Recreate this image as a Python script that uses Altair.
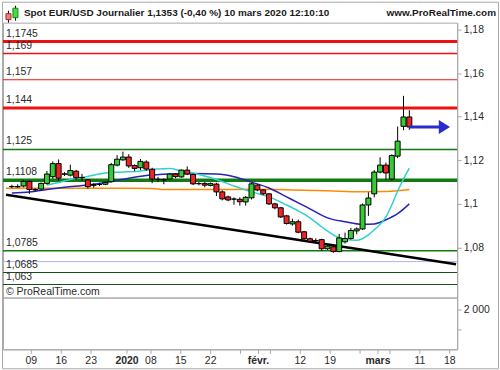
import altair as alt
import pandas as pd

# ---------------- data ----------------
candle_dates = [
    "2019-12-03", "2019-12-04", "2019-12-05", "2019-12-06", "2019-12-09", "2019-12-10",
    "2019-12-11", "2019-12-12", "2019-12-13", "2019-12-16", "2019-12-17", "2019-12-18",
    "2019-12-19", "2019-12-20", "2019-12-23", "2019-12-24", "2019-12-26", "2019-12-27",
    "2019-12-30", "2019-12-31", "2020-01-02", "2020-01-03", "2020-01-06", "2020-01-07",
    "2020-01-08", "2020-01-09", "2020-01-10", "2020-01-13", "2020-01-14", "2020-01-15",
    "2020-01-16", "2020-01-17", "2020-01-20", "2020-01-21", "2020-01-22", "2020-01-23",
    "2020-01-24", "2020-01-27", "2020-01-28", "2020-01-29", "2020-01-30", "2020-01-31",
    "2020-02-03", "2020-02-04", "2020-02-05", "2020-02-06", "2020-02-07", "2020-02-10",
    "2020-02-11", "2020-02-12", "2020-02-13", "2020-02-14", "2020-02-17", "2020-02-18",
    "2020-02-19", "2020-02-20", "2020-02-21", "2020-02-24", "2020-02-25", "2020-02-26",
    "2020-02-27", "2020-02-28", "2020-03-02", "2020-03-03", "2020-03-04", "2020-03-05",
    "2020-03-06", "2020-03-09", "2020-03-10",
]
opens = [
    1.1079, 1.1080, 1.1082, 1.1103, 1.1066, 1.1068, 1.1094, 1.1125, 1.1185, 1.1136, 1.1132, 1.1150,
    1.1120, 1.1110, 1.1085, 1.1089, 1.1090, 1.1102, 1.1178, 1.1202, 1.1215, 1.1176, 1.1166, 1.1192,
    1.1159, 1.1113, 1.1110, 1.1114, 1.1137, 1.1124, 1.1155, 1.1135, 1.1093, 1.1094, 1.1085, 1.1091,
    1.1055, 1.1032, 1.1022, 1.1021, 1.1009, 1.1028, 1.1086, 1.1064, 1.1046, 1.1000, 1.0982, 1.0945,
    1.0908, 1.0918, 1.0872, 1.0840, 1.0832, 1.0836, 1.0794, 1.0803, 1.0781, 1.0826, 1.0841, 1.0876,
    1.0885, 1.0995, 1.1046, 1.1146, 1.1178, 1.1114, 1.1219, 1.1356, 1.1399,
]
highs = [
    1.1088, 1.1090, 1.1110, 1.1108, 1.1072, 1.1098, 1.1151, 1.1195, 1.1204, 1.1146, 1.1180, 1.1156,
    1.1138, 1.1113, 1.1095, 1.1097, 1.1102, 1.1188, 1.1224, 1.1240, 1.1228, 1.1182, 1.1206, 1.1200,
    1.1166, 1.1124, 1.1118, 1.1140, 1.1141, 1.1158, 1.1172, 1.1140, 1.1100, 1.1100, 1.1098, 1.1097,
    1.1062, 1.1038, 1.1030, 1.1030, 1.1036, 1.1097, 1.1090, 1.1068, 1.1050, 1.1005, 1.0986, 1.0950,
    1.0932, 1.0928, 1.0876, 1.0845, 1.0842, 1.0840, 1.0812, 1.0808, 1.0862, 1.0868, 1.0890, 1.0892,
    1.1002, 1.1053, 1.1155, 1.1214, 1.1190, 1.1228, 1.1355, 1.1496, 1.1430,
]
lows = [
    1.1072, 1.1074, 1.1076, 1.1046, 1.1058, 1.1062, 1.1088, 1.1115, 1.1105, 1.1128, 1.1126, 1.1112,
    1.1105, 1.1070, 1.1074, 1.1082, 1.1086, 1.1098, 1.1172, 1.1198, 1.1165, 1.1150, 1.1155, 1.1152,
    1.1095, 1.1100, 1.1090, 1.1110, 1.1118, 1.1120, 1.1132, 1.1086, 1.1085, 1.1076, 1.1080, 1.1036,
    1.1016, 1.1012, 1.0996, 1.0992, 1.0992, 1.1020, 1.1058, 1.1040, 1.0995, 1.0975, 1.0935, 1.0905,
    1.0900, 1.0865, 1.0835, 1.0826, 1.0825, 1.0785, 1.0788, 1.0776, 1.0778, 1.0818, 1.0836, 1.0860,
    1.0880, 1.0945, 1.1030, 1.1140, 1.1110, 1.1108, 1.1210, 1.1338, 1.1340,
]
closes = [
    1.1080, 1.1078, 1.1103, 1.1066, 1.1064, 1.1094, 1.1137, 1.1185, 1.1118, 1.1138, 1.1153, 1.1120,
    1.1121, 1.1079, 1.1089, 1.1089, 1.1099, 1.1180, 1.1205, 1.1215, 1.1174, 1.1163, 1.1195, 1.1160,
    1.1114, 1.1112, 1.1111, 1.1137, 1.1125, 1.1155, 1.1137, 1.1092, 1.1093, 1.1086, 1.1093, 1.1055,
    1.1023, 1.1018, 1.1022, 1.1010, 1.1030, 1.1092, 1.1064, 1.1046, 1.1000, 1.0982, 1.0940, 1.0910,
    1.0918, 1.0870, 1.0840, 1.0828, 1.0831, 1.0794, 1.0806, 1.0781, 1.0844, 1.0841, 1.0878, 1.0885,
    1.0995, 1.1027, 1.1146, 1.1178, 1.1142, 1.1222, 1.1288, 1.1399, 1.1353,
]

# moving averages
ma10_dates = ["2019-12-11", "2019-12-13", "2019-12-17", "2019-12-20", "2019-12-26", "2019-12-31",
              "2020-01-06", "2020-01-09", "2020-01-13", "2020-01-15", "2020-01-20", "2020-01-23",
              "2020-01-28", "2020-01-31", "2020-02-05", "2020-02-10", "2020-02-12", "2020-02-14",
              "2020-02-18", "2020-02-20", "2020-02-24", "2020-02-26", "2020-02-28", "2020-03-02",
              "2020-03-04", "2020-03-05", "2020-03-06", "2020-03-09", "2020-03-10"]
ma10_vals = [1.1087, 1.1098, 1.1112, 1.1126, 1.1142, 1.1146, 1.1151, 1.1160, 1.1162, 1.1151,
             1.1135, 1.1112, 1.1082, 1.1055, 1.1032, 1.0995, 1.0968, 1.0936, 1.0895, 1.0858,
             1.0836, 1.0833, 1.0858, 1.0881, 1.0940, 1.0995, 1.1059, 1.1114, 1.1164]
ma20_dates = ["2019-12-03", "2019-12-06", "2019-12-11", "2019-12-16", "2019-12-20", "2019-12-27",
              "2020-01-02", "2020-01-07", "2020-01-13", "2020-01-17", "2020-01-23", "2020-01-28",
              "2020-01-31", "2020-02-05", "2020-02-10", "2020-02-12", "2020-02-14", "2020-02-19",
              "2020-02-24", "2020-02-27", "2020-03-02", "2020-03-04", "2020-03-06", "2020-03-10"]
ma20_vals = [1.1050, 1.1055, 1.1066, 1.1076, 1.1087, 1.1103, 1.1118, 1.1130, 1.1137, 1.1139,
             1.1137, 1.1125, 1.1100, 1.1073, 1.1032, 1.1005, 1.0977, 1.0936, 1.0918, 1.0906,
             1.0908, 1.0927, 1.0955, 1.1000]
ma200_dates = ["2019-12-02", "2019-12-23", "2020-01-08", "2020-01-10", "2020-01-22", "2020-01-31",
               "2020-02-11", "2020-02-19", "2020-02-27", "2020-03-04", "2020-03-06", "2020-03-10"]
ma200_vals = [1.1072, 1.1072, 1.1071, 1.1066, 1.1066, 1.1067, 1.1064, 1.1060, 1.1056, 1.1057,
              1.1060, 1.1066]

# support / resistance levels
level_values = [1.1745, 1.169, 1.157, 1.144, 1.125, 1.1108, 1.0785, 1.0735, 1.0685, 1.063]
level_labels = ["1,1745", "1,169", "1,157", "1,144", "1,125", "1,1108", "1,0785", "", "1,0685", "1,063"]
level_colors = ["#ee1111", "#ee1111", "#ee1111", "#ee1111", "#117a11", "#117a11", "#117a11",
                "#aab2f2", "#1d4d1d", "#1d4d1d"]
level_widths = [3, 1.5, 1.2, 3, 1.5, 3.5, 1.5, 1, 1.2, 1.2]

# trendline and arrow
trend_dates = ["2019-12-02", "2020-03-20"]
trend_vals = [1.1042, 1.0723]
arrow_dates = ["2020-03-10", "2020-03-18"]
last_close = 1.1353

# axes
tick_dates = ["2019-12-09", "2019-12-16", "2019-12-23", "2020-01-02", "2020-01-08", "2020-01-15",
              "2020-01-22", "2020-01-29", "2020-02-03", "2020-02-05", "2020-02-12", "2020-02-19",
              "2020-02-26", "2020-03-02", "2020-03-04", "2020-03-11", "2020-03-18"]
tick_texts = ["09", "16", "23", "2020", "08", "15", "22", "", "févr.", "", "12", "19", "", "mars",
              "", "11", "18"]
bold_texts = ["2020", "févr.", "mars"]
price_ticks = [1.08, 1.10, 1.12, 1.14, 1.16, 1.18]
vol_ticks = [1000, 2000]

title_text = "Spot EUR/USD Journalier 1,1353 (-0,40 %) 10 mars 2020 12:10:10"
site_text = "www.ProRealTime.com"
copy_text = "© ProRealTime.com"

# ---------------- trading-day calendar ----------------
holidays = ["2019-12-25", "2020-01-01"]
cal = [d.strftime("%Y-%m-%d") for d in pd.bdate_range("2019-12-02", "2020-03-20")
       if d.strftime("%Y-%m-%d") not in holidays]
origin = cal.index("2019-12-09")


def idx(d):
    return cal.index(d) - origin


candles = pd.DataFrame({
    "i": [idx(d) for d in candle_dates],
    "open": opens, "high": highs, "low": lows, "close": closes,
})
levels = pd.DataFrame({"v": level_values, "label": level_labels,
                       "c": level_colors, "w": level_widths})
ma10 = pd.DataFrame({"i": [idx(d) for d in ma10_dates], "v": ma10_vals})
ma20 = pd.DataFrame({"i": [idx(d) for d in ma20_dates], "v": ma20_vals})
ma200 = pd.DataFrame({"i": [idx(d) for d in ma200_dates], "v": ma200_vals})
trend = pd.DataFrame({"i": [idx(d) for d in trend_dates], "v": trend_vals})
arrow = pd.DataFrame({"i": [idx(arrow_dates[0])], "i2": [idx(arrow_dates[1])], "v": [last_close]})
arrow_head = pd.DataFrame({"i": [idx(arrow_dates[1])], "v": [last_close]})

tick_idx = [idx(d) for d in tick_dates]
bold_idx = [tick_idx[k] for k, t in enumerate(tick_texts) if t in bold_texts]

# ---------------- layout ----------------
W, H_MAIN, H_VOL = 456, 276, 52
FONT = "Liberation Sans"
GRAY = "#a8a8a8"
TXT = "#2a2a2a"

xscale = alt.Scale(domain=[-4.667, 71.333], nice=False, zero=False)
yscale = alt.Scale(domain=[1.0570, 1.1832], nice=False, zero=False)

yaxis = alt.Axis(orient="right", values=price_ticks, title=None, grid=False,
                 labelExpr="replace(format(datum.value, '.3~r'), '.', ',')",
                 tickSize=4, labelPadding=2, domainColor=GRAY, tickColor=GRAY,
                 labelColor=TXT, labelFontSize=10.5, labelFont=FONT)


def X(field="i"):
    return alt.X(f"{field}:Q", scale=xscale, axis=None)


def Y(field="v"):
    return alt.Y(f"{field}:Q", scale=yscale, axis=yaxis)


level_rules = alt.Chart(levels).mark_rule().encode(
    y=Y("v"), color=alt.Color("c:N", scale=None), strokeWidth=alt.StrokeWidth("w:Q", scale=None))
level_text = alt.Chart(levels).mark_text(align="left", baseline="alphabetic", dy=-5,
                                          fontSize=10.5, font=FONT, color=TXT).encode(
    x=alt.value(3), y=Y("v"), text="label:N")

line_200 = alt.Chart(ma200).mark_line(color="#ff8a00", strokeWidth=1.5, clip=True,
                                      interpolate="monotone").encode(x=X(), y=Y())
line_20 = alt.Chart(ma20).mark_line(color="#2424b8", strokeWidth=1.5,
                                    interpolate="monotone").encode(x=X(), y=Y())
line_10 = alt.Chart(ma10).mark_line(color="#2fd0d0", strokeWidth=1.5,
                                    interpolate="monotone").encode(x=X(), y=Y())
trend_line = alt.Chart(trend).mark_line(color="#000000", strokeWidth=2.5, clip=True).encode(
    x=X(), y=Y())

wicks = alt.Chart(candles).mark_rule(color="#000000", strokeWidth=1).encode(
    x=X(), y=Y("low"), y2="high:Q")
bodies = alt.Chart(candles).mark_bar(size=5, stroke="#000000", strokeWidth=1).encode(
    x=X(), y=Y("open"), y2="close:Q",
    fill=alt.condition("datum.close >= datum.open", alt.value("#36cc36"), alt.value("#f02424")))

arrow_rule = alt.Chart(arrow).mark_rule(color="#2a2ad0", strokeWidth=3).encode(
    x=X(), x2="i2:Q", y=Y())
arrow_tip = alt.Chart(arrow_head).mark_point(shape="M-0.8,-1L0.8,0L-0.8,1Z", size=196,
                                              filled=True, color="#2a2ad0", opacity=1).encode(
    x=X(), y=Y())

one = pd.DataFrame({"t": [title_text], "s": [site_text], "c": [copy_text]})
title_mark = alt.Chart(one).mark_text(align="left", baseline="middle", fontSize=10,
                                      fontWeight="bold", font=FONT, color="#1a1a1a").encode(
    x=alt.value(21), y=alt.value(-10), text="t:N")
site_mark = alt.Chart(one).mark_text(align="right", baseline="middle", fontSize=10,
                                     fontWeight="bold", font=FONT, color="#1a1a1a").encode(
    x=alt.value(495), y=alt.value(-10), text="s:N")
copy_mark = alt.Chart(one).mark_text(align="left", baseline="middle", fontSize=10.5,
                                     font=FONT, color=TXT).encode(
    x=alt.value(3), y=alt.value(270), text="c:N")

# small candle icon in the header + outer frame
icon_red_wick = alt.Chart(one).mark_rule(color="#000000").encode(
    x=alt.value(5.5), y=alt.value(-12), y2=alt.value(0))
icon_red = alt.Chart(one).mark_rect(fill="#f08080", stroke="#b02020", strokeWidth=1).encode(
    x=alt.value(3), x2=alt.value(8), y=alt.value(-9), y2=alt.value(-3))
icon_green_wick = alt.Chart(one).mark_rule(color="#000000").encode(
    x=alt.value(12.5), y=alt.value(-17), y2=alt.value(-2))
icon_green = alt.Chart(one).mark_rect(fill="#44dd44", stroke="#118811", strokeWidth=1).encode(
    x=alt.value(10), x2=alt.value(15), y=alt.value(-14.5), y2=alt.value(-5))
frame = alt.Chart(one).mark_rect(fillOpacity=0, stroke=GRAY, strokeWidth=1).encode(
    x=alt.value(-0.5), x2=alt.value(497.5), y=alt.value(-20.5), y2=alt.value(347.5))

top = alt.layer(
    frame, level_rules, line_200, line_20, line_10, trend_line, wicks, bodies,
    arrow_rule, arrow_tip, level_text, copy_mark, title_mark, site_mark,
    icon_red_wick, icon_red, icon_green_wick, icon_green,
).properties(width=W, height=H_MAIN)

xaxis = alt.Axis(values=tick_idx, title=None, grid=False,
                 labelExpr="[" + ",".join("'" + t + "'" for t in tick_texts) + "][indexof(["
                           + ",".join(str(v) for v in tick_idx) + "], datum.value)]",
                 labelFontWeight={"condition": {"test": "indexof([" + ",".join(str(v) for v in bold_idx)
                                                        + "], datum.value) >= 0", "value": "bold"},
                                  "value": "normal"},
                 tickSize=4, labelPadding=2, domainColor=GRAY, tickColor=GRAY,
                 labelColor=TXT, labelFontSize=10.5, labelFont=FONT,
                 labelOverlap=False, labelFlush=False)
vol_axis = alt.Axis(orient="right", values=vol_ticks, title=None, grid=False,
                    labelExpr="datum.value == 2000 ? '2 000' : ''",
                    tickSize=4, labelPadding=2, domainColor=GRAY, tickColor=GRAY,
                    labelColor=TXT, labelFontSize=10.5, labelFont=FONT)

vol_df = pd.DataFrame({"i": candles["i"], "volume": [0] * len(candles)})
bottom = alt.Chart(vol_df).mark_point(opacity=0).encode(
    x=alt.X("i:Q", scale=xscale, axis=xaxis),
    y=alt.Y("volume:Q", scale=alt.Scale(domain=[0, 2600], nice=False), axis=vol_axis),
).properties(width=W, height=H_VOL)

chart = alt.vconcat(top, bottom, spacing=0, bounds="flush").properties(
    padding={"left": 0, "top": 0, "right": 0, "bottom": 0},
    background="#ffffff",
).configure_view(stroke=GRAY, strokeWidth=1).configure_axis(labelFont=FONT)

chart.save("out.html", embed_options={"renderer": "svg", "actions": False})
